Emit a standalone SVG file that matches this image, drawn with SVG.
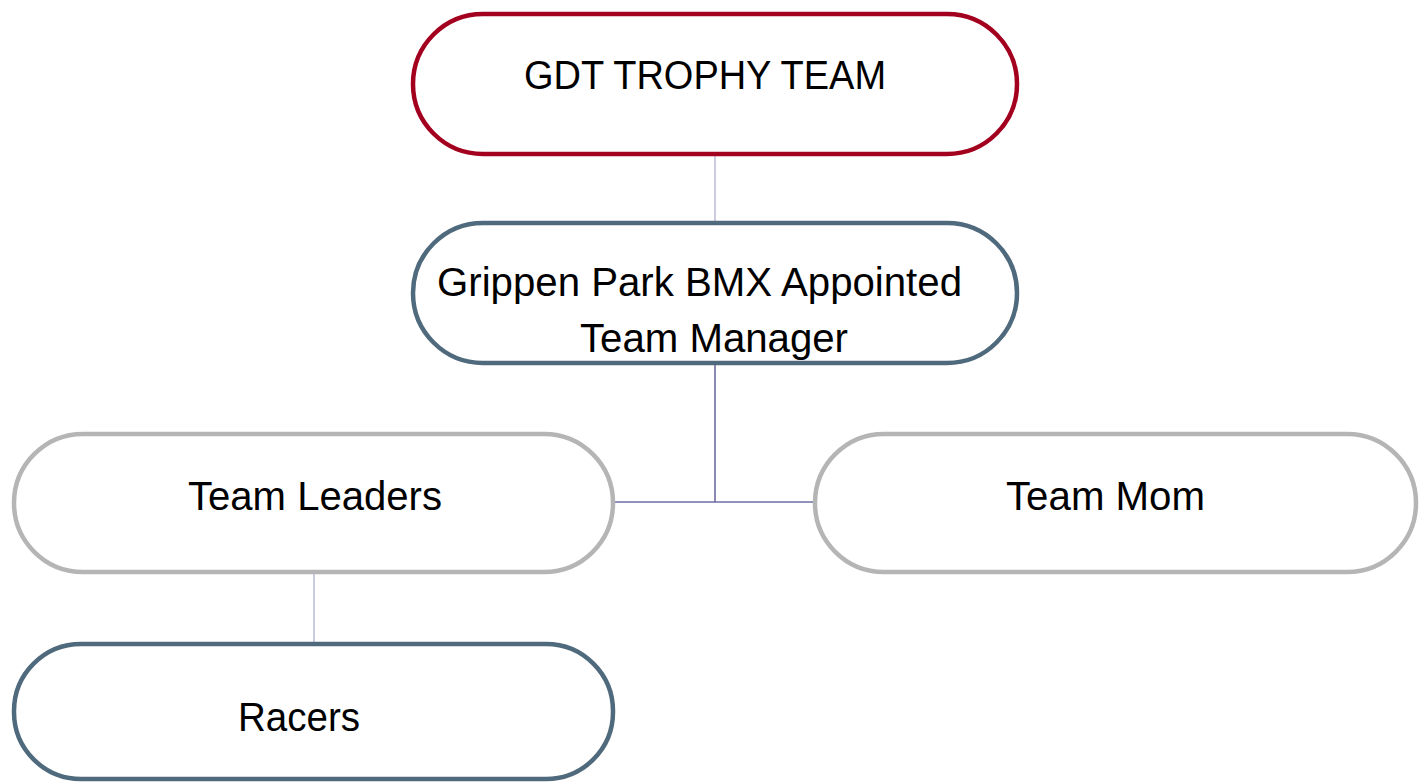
<svg xmlns="http://www.w3.org/2000/svg" width="1427" height="782" viewBox="0 0 1427 782">
  <style>
    .node { fill: #ffffff; stroke-width: 4.5; }
    .red { stroke: #a3001f; }
    .slate { stroke: #4f697d; }
    .grey { stroke: #b5b5b5; }
    .label { font-family: "Liberation Sans", Arial, sans-serif; font-size: 40px; fill: #000000; }
    .link-light { stroke: #aaaacb; stroke-width: 1.2; fill: none; }
    .link-dark { stroke: #6c6ca2; stroke-width: 1.6; fill: none; }
  </style>
  <rect width="1427" height="782" fill="#ffffff"/>

  <g id="connectors">
    <line class="link-light" x1="715" y1="156" x2="715" y2="222"/>
    <polyline class="link-dark" points="715,364 715,502"/>
    <line class="link-dark" x1="615" y1="502" x2="814" y2="502"/>
    <line class="link-light" x1="314" y1="574" x2="314" y2="643"/>
  </g>

  <g id="node-gdt-trophy-team">
    <rect class="node red" x="413" y="14" width="604" height="140" rx="70" ry="70"/>
    <text class="label" x="705" y="89" text-anchor="middle" textLength="362" lengthAdjust="spacingAndGlyphs">GDT TROPHY TEAM</text>
  </g>

  <g id="node-team-manager">
    <rect class="node slate" x="413" y="223" width="604" height="140" rx="70" ry="70"/>
    <text class="label" x="437" y="296" textLength="525" lengthAdjust="spacingAndGlyphs">Grippen Park BMX Appointed</text>
    <text class="label" x="580" y="352" textLength="268" lengthAdjust="spacingAndGlyphs">Team Manager</text>
  </g>

  <g id="node-team-leaders">
    <rect class="node grey" x="14" y="434" width="599" height="138" rx="69" ry="69"/>
    <text class="label" x="188" y="510" textLength="254" lengthAdjust="spacingAndGlyphs">Team Leaders</text>
  </g>

  <g id="node-team-mom">
    <rect class="node grey" x="815" y="434" width="601" height="138" rx="69" ry="69"/>
    <text class="label" x="1006" y="510" textLength="199" lengthAdjust="spacingAndGlyphs">Team Mom</text>
  </g>

  <g id="node-racers">
    <rect class="node slate" x="14" y="644" width="599" height="135" rx="67" ry="67"/>
    <text class="label" x="238" y="731" textLength="122" lengthAdjust="spacingAndGlyphs">Racers</text>
  </g>
</svg>
